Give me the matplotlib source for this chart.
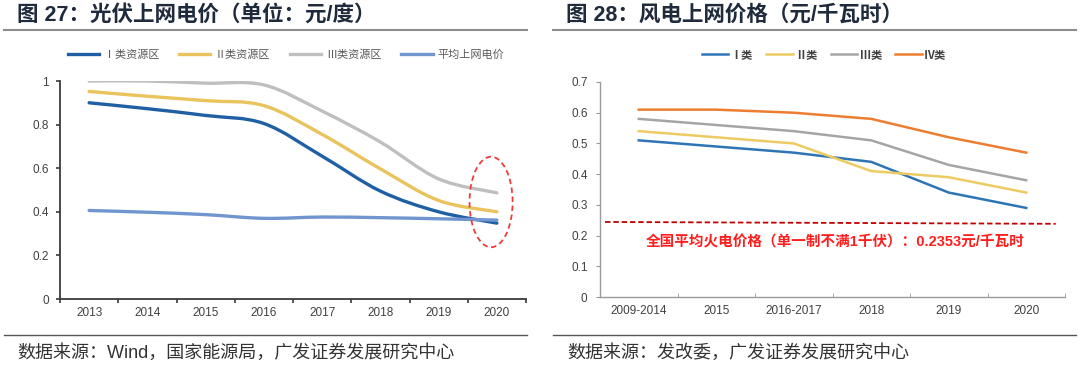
import matplotlib
matplotlib.use("Agg")
import matplotlib.pyplot as plt
from matplotlib.path import Path
from matplotlib.patches import PathPatch, Ellipse
from matplotlib.lines import Line2D

plt.rcParams['font.family'] = ['Liberation Sans', 'Noto Sans CJK SC', 'DejaVu Sans']

# 图27 光伏上网电价（元/度）
pv_years = ['2013', '2014', '2015', '2016', '2017', '2018', '2019', '2020']
pv_class1 = [0.90, 0.873, 0.842, 0.805, 0.655, 0.495, 0.40, 0.348]
pv_class2 = [0.952, 0.93, 0.91, 0.887, 0.755, 0.597, 0.452, 0.40]
pv_class3 = [1.00, 1.00, 0.99, 0.982, 0.862, 0.72, 0.551, 0.487]
pv_avg = [0.406, 0.398, 0.387, 0.37, 0.376, 0.373, 0.368, 0.362]
pv_labels = ['Ⅰ类资源区', 'Ⅱ类资源区', 'Ⅲ类资源区', '平均上网电价']

# 图28 风电上网价格（元/千瓦时）
wind_years = ['2009-2014', '2015', '2016-2017', '2018', '2019', '2020']
wind_class1 = [0.51, 0.49, 0.47, 0.44, 0.34, 0.29]
wind_class2 = [0.54, 0.52, 0.50, 0.41, 0.39, 0.34]
wind_class3 = [0.58, 0.56, 0.54, 0.51, 0.43, 0.38]
wind_class4 = [0.61, 0.61, 0.60, 0.58, 0.52, 0.47]
wind_labels = ['Ⅰ类', 'Ⅱ类', 'Ⅲ类', 'Ⅳ类']
coal_price = 0.2353
coal_text = '全国平均火电价格（单一制不满1千伏）：0.2353元/千瓦时'

W, H = 1080, 367


def smooth_path(ys):
    # Excel 风格的平滑折线：Catmull-Rom 转 Bezier 控制点
    pts = list(enumerate(ys))
    verts = [pts[0]]
    codes = [Path.MOVETO]
    n = len(pts)
    for i in range(n - 1):
        p0 = pts[max(i - 1, 0)]
        p1 = pts[i]
        p2 = pts[i + 1]
        p3 = pts[min(i + 2, n - 1)]
        c1 = (p1[0] + (p2[0] - p0[0]) / 6, p1[1] + (p2[1] - p0[1]) / 6)
        c2 = (p2[0] - (p3[0] - p1[0]) / 6, p2[1] - (p3[1] - p1[1]) / 6)
        verts += [c1, c2, p2]
        codes += [Path.CURVE4] * 3
    return Path(verts, codes)


fig = plt.figure(figsize=(W / 100, H / 100), dpi=100)

# ---------- 左图 ----------
ax1 = fig.add_axes([60 / W, (H - 299) / H, 466 / W, 218 / H])
pv_colors = ['#1F5FA3', '#EAC35C', '#BFBFBF', '#7196CF']
pv_series = [pv_class1, pv_class2, pv_class3, pv_avg]
for ys, c in zip(pv_series, pv_colors):
    ax1.add_patch(PathPatch(smooth_path(ys), fill=False, edgecolor=c, lw=2.4,
                            capstyle='round'))
ax1.add_patch(Ellipse((6.9, 0.445), 0.74, 0.415, fill=False, edgecolor='#F03C3C',
                      lw=1.3, linestyle=(0, (3, 2))))
ax1.set_xlim(-0.5, len(pv_years) - 0.5)
ax1.set_ylim(0, 1)
ax1.set_xticks(range(len(pv_years)))
ax1.set_xticklabels(pv_years)
ax1.set_xticks([i - 0.5 for i in range(len(pv_years) + 1)], minor=True)
ax1.set_yticks([0, 0.2, 0.4, 0.6, 0.8, 1.0])
ax1.set_yticklabels(['0', '0.2', '0.4', '0.6', '0.8', '1'])
for s in ['top', 'right']:
    ax1.spines[s].set_visible(False)
for s in ['left', 'bottom']:
    ax1.spines[s].set_color('#3A3A3A')
    ax1.spines[s].set_linewidth(1.3)
ax1.tick_params(axis='x', which='major', length=0, pad=6, labelsize=8.5, labelcolor='#404040')
ax1.tick_params(axis='x', which='minor', length=3, direction='out', color='#3A3A3A', width=1.2)
ax1.tick_params(axis='y', length=3, direction='out', color='#3A3A3A', width=1.2, pad=5,
                labelsize=8.5, labelcolor='#404040')
h1 = [Line2D([], [], color=c, lw=2.4) for c in pv_colors]
fig.legend(h1, pv_labels, loc='center', bbox_to_anchor=(286 / W, 1 - 55 / H),
           ncol=4, frameon=False, fontsize=8, handlelength=2.8, handletextpad=0.4,
           columnspacing=1.8, labelcolor='#595959')

# ---------- 右图 ----------
ax2 = fig.add_axes([600 / W, (H - 297) / H, 465 / W, 215 / H])
wind_colors = ['#2E75B6', '#EDCB63', '#A5A5A5', '#ED7D31']
wind_series = [wind_class1, wind_class2, wind_class3, wind_class4]
x2 = list(range(len(wind_years)))
for ys, c in zip(wind_series, wind_colors):
    ax2.plot(x2, ys, color=c, lw=1.8)
ax2.plot([-0.435, 5.38], [coal_price + 0.009, coal_price + 0.003], color='#C00000',
         lw=1.3, linestyle=(0, (3, 1.6)))
ax2.text(2.54, 0.179, coal_text, color='#FF1E1E', fontsize=10.5, fontweight='bold',
         ha='center', va='center')
ax2.set_xlim(-0.5, len(wind_years) - 0.5)
ax2.set_ylim(0, 0.7)
ax2.set_xticks(x2)
ax2.set_xticklabels(wind_years)
ax2.set_xticks([i - 0.5 for i in range(len(wind_years) + 1)], minor=True)
ax2.set_yticks([0, 0.1, 0.2, 0.3, 0.4, 0.5, 0.6, 0.7])
ax2.set_yticklabels(['0', '0.1', '0.2', '0.3', '0.4', '0.5', '0.6', '0.7'])
for s in ['top', 'right']:
    ax2.spines[s].set_visible(False)
for s in ['left', 'bottom']:
    ax2.spines[s].set_color('#9A9A9A')
    ax2.spines[s].set_linewidth(1.0)
ax2.tick_params(axis='x', which='major', length=0, pad=6, labelsize=8.5, labelcolor='#404040')
ax2.tick_params(axis='x', which='minor', length=3, direction='in', color='#9A9A9A')
ax2.tick_params(axis='y', length=3, direction='out', color='#9A9A9A', pad=6,
                labelsize=8.5, labelcolor='#404040')
h2 = [Line2D([], [], color=c, lw=1.8) for c in wind_colors]
fig.legend(h2, wind_labels, loc='center', bbox_to_anchor=(824 / W, 1 - 55 / H),
           ncol=4, frameon=False, fontsize=8, handlelength=2.4, handletextpad=0.2,
           columnspacing=1.2, labelcolor='#404040', prop={'weight': 'bold', 'size': 8})

# ---------- 标题、分隔线、数据来源 ----------
title_kw = dict(fontsize=15.5, fontweight='bold', color='#1F2A3C', va='center')
fig.text(17 / W, 1 - 15 / H, '图 27：光伏上网电价（单位：元/度）', **title_kw)
fig.text(566 / W, 1 - 15 / H, '图 28：风电上网价格（元/千瓦时）', **title_kw)
for x0, x1 in [(4, 527), (553, 1076)]:
    fig.add_artist(Line2D([x0 / W, x1 / W], [1 - 30 / H] * 2, color='#8C8C8C', lw=1.5))
    fig.add_artist(Line2D([x0 / W, x1 / W], [1 - 335 / H] * 2, color='#555555', lw=1.0))
src_kw = dict(fontsize=13, color='#333333', va='center')
fig.text(17 / W, 1 - 353 / H, '数据来源：Wind，国家能源局，广发证券发展研究中心', **src_kw)
fig.text(567 / W, 1 - 353 / H, '数据来源：发改委，广发证券发展研究中心', **src_kw)

fig.savefig('out.png', dpi=100, facecolor='white')
